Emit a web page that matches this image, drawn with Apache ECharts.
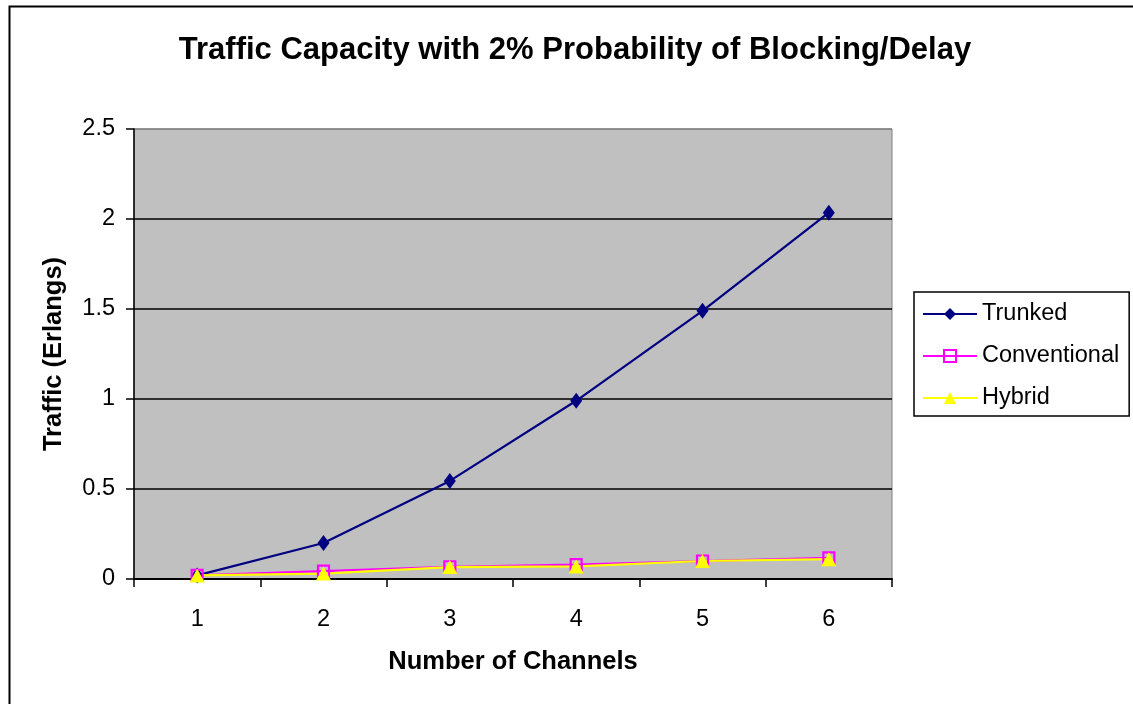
<!DOCTYPE html>
<html>
<head>
<meta charset="utf-8">
<script src="https://cdn.jsdelivr.net/npm/echarts@6/dist/echarts.min.js"></script>
<style>
html,body{margin:0;padding:0;background:#fff;}
#main{width:1133px;height:704px;}
</style>
</head>
<body>
<div id="main"></div>
<script>
const categories = ['1', '2', '3', '4', '5', '6'];
const trunked = [0.02, 0.2, 0.545, 0.99, 1.49, 2.035];
const conventional = [0.02, 0.044, 0.068, 0.08, 0.1, 0.117];
const hybrid = [0.02, 0.03, 0.066, 0.07, 0.1, 0.11];
const seriesNames = ['Trunked', 'Conventional', 'Hybrid'];

const FONT = '"Liberation Sans", Arial, sans-serif';
const chart = echarts.init(document.getElementById('main'));
chart.setOption({
  backgroundColor: '#fff',
  animation: false,
  graphic: [{
    type: 'rect', left: 7, top: 4, silent: true,
    shape: { width: 1200, height: 800 },
    style: { fill: 'none', stroke: '#000', lineWidth: 2 }
  }],
  title: {
    text: 'Traffic Capacity with 2% Probability of Blocking/Delay',
    left: 570, top: 30, textAlign: 'center',
    textStyle: { fontFamily: FONT, fontSize: 31, fontWeight: 'bold', color: '#000' }
  },
  legend: {
    orient: 'vertical', left: 914, top: 292,
    padding: [10, 10, 6, 8],
    itemGap: 18, itemWidth: 54, itemHeight: 15,
    borderColor: '#000', borderWidth: 1.5, backgroundColor: '#fff',
    textStyle: { fontFamily: FONT, fontSize: 23.5, color: '#000' },
    data: seriesNames
  },
  grid: {
    left: 134, top: 129, right: 241, bottom: 125,
    show: true, backgroundColor: '#C0C0C0', borderColor: '#808080', borderWidth: 1
  },
  xAxis: {
    type: 'category', data: categories, boundaryGap: true,
    name: 'Number of Channels', nameLocation: 'middle', nameGap: 70,
    nameTextStyle: { fontFamily: FONT, fontSize: 25.5, fontWeight: 'bold', color: '#000' },
    axisLine: { lineStyle: { color: '#000', width: 2 } },
    axisTick: { show: true, length: 8, lineStyle: { color: '#000', width: 1.5 } },
    axisLabel: { margin: 29, fontFamily: FONT, fontSize: 23.5, color: '#000' },
    splitLine: { show: false }
  },
  yAxis: {
    type: 'value', min: 0, max: 2.5, interval: 0.5,
    name: 'Traffic (Erlangs)', nameLocation: 'middle', nameGap: 67, nameRotate: 90,
    nameTextStyle: { fontFamily: FONT, fontSize: 25.5, fontWeight: 'bold', color: '#000' },
    axisLine: { show: true, lineStyle: { color: '#000', width: 1.5 } },
    axisTick: { show: true, length: 8, lineStyle: { color: '#000', width: 1.5 } },
    axisLabel: { margin: 19, fontFamily: FONT, fontSize: 23.5, color: '#000' },
    splitLine: { show: true, lineStyle: { color: ['#000', '#000', '#000', '#000', '#000', '#808080'], width: 1.5 } }
  },
  series: [
    {
      name: seriesNames[0], type: 'line', data: trunked,
      symbol: 'diamond', symbolSize: [12, 16],
      lineStyle: { color: '#000080', width: 2.2 },
      itemStyle: { color: '#000080' }
    },
    {
      name: seriesNames[1], type: 'line', data: conventional,
      symbol: 'rect', symbolSize: 11,
      lineStyle: { color: '#FF00FF', width: 2.2 },
      itemStyle: { color: 'rgba(255,255,255,0)', borderColor: '#FF00FF', borderWidth: 2.2 }
    },
    {
      name: seriesNames[2], type: 'line', data: hybrid,
      symbol: 'triangle', symbolSize: [15, 14],
      lineStyle: { color: '#FFFF00', width: 2.2 },
      itemStyle: { color: '#FFFF00' }
    }
  ]
});
</script>
</body>
</html>
